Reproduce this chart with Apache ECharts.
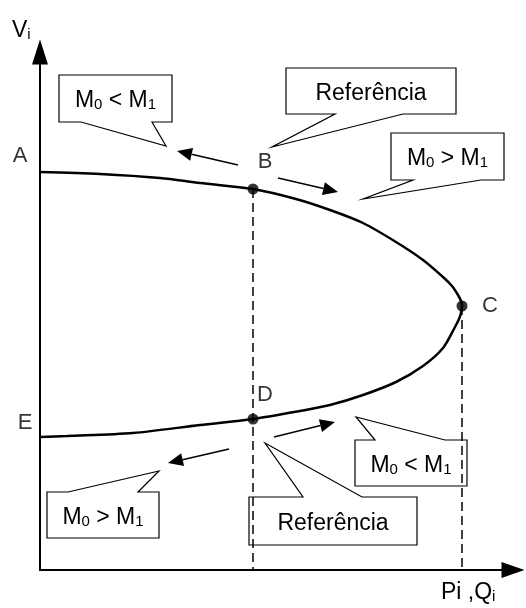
<!DOCTYPE html>
<html>
<head>
<meta charset="utf-8">
<script src="https://cdn.jsdelivr.net/npm/echarts@6/dist/echarts.min.js"></script>
<style>
  html, body { margin: 0; background: #fff; }
  #chart { width: 526px; height: 608px; }
</style>
</head>
<body>
<div id="chart"></div>
<script>
// curva do nariz (P, V) - ramo superior A -> C
const upperP = [0, 60, 120, 160, 213, 256, 290, 323, 356, 383, 403, 412, 418, 421, 422];
const upperV = [398, 396, 392, 387, 381, 371, 360, 347, 328, 310, 293, 284, 275, 269, 264];
// ramo inferior C -> E
const lowerP = [421, 419, 415, 403, 383, 356, 323, 290, 260, 213, 160, 93, 27, 0];
const lowerV = [257, 251, 243, 222, 204, 188, 175, 165, 159, 151, 145, 137, 134, 133];

// pontos marcados
const dotNames = ['B', 'C', 'D'];
const dotP = [213, 422, 213];
const dotV = [381, 264, 151];

// pontos com letra
const letterNames = ['A', 'B', 'C', 'D', 'E'];
const letterP = [0, 213, 422, 213, 0];
const letterV = [398, 381, 264, 151, 133];

// linhas tracejadas verticais (a partir de B e C)
const guideP = [213, 422];
const guideV = [381, 264];

const FONT = 'Liberation Sans';

const curveData = upperP.map((p, i) => [p, upperV[i]])
  .concat(lowerP.map((p, i) => [p, lowerV[i]]));

// deslocamento das letras em relação ao ponto
const letterOffset = {
  A: [-20, -16], B: [12, -27], C: [28, 0], D: [12, -24], E: [-15, -14]
};

// balões (texto, caixa, ponta)
const callouts = [
  { text: '{t|M}{s|0}{t| < M}{s|1}', box: [59, 75, 113, 47], tail: [[81, 122], [166, 146], [152, 122]], side: 'bottom' },
  { text: '{t|Referência}', box: [286, 68, 170, 46], tail: [[335, 114], [272, 147], [403, 114]], side: 'bottom' },
  { text: '{t|M}{s|0}{t| > M}{s|1}', box: [391, 133, 113, 47], tail: [[413, 180], [363, 199], [481, 180]], side: 'bottom' },
  { text: '{t|M}{s|0}{t| > M}{s|1}', box: [47, 492, 112, 46], tail: [[68, 492], [159, 471], [138, 492]], side: 'top' },
  { text: '{t|Referência}', box: [249, 497, 168, 48], tail: [[303, 497], [265, 443], [362, 497]], side: 'top' },
  { text: '{t|M}{s|0}{t| < M}{s|1}', box: [355, 440, 112, 46], tail: [[375, 440], [356, 417], [445, 440]], side: 'top' }
];

// setas de direção
const arrows = [
  [238, 165, 177, 151],
  [278, 178, 338, 192],
  [274, 437, 335, 422],
  [229, 449, 168, 463]
];

// texto com índice
const richText = {
  t: { fontSize: 23, fontFamily: FONT, color: '#000', lineHeight: 26, verticalAlign: 'bottom' },
  s: { fontSize: 15, fontFamily: FONT, color: '#000', lineHeight: 13, verticalAlign: 'bottom' }
};

function calloutPoints(c) {
  const [x, y, w, h] = c.box;
  if (c.side === 'bottom') {
    // ponta na borda de baixo: percorre da direita para a esquerda
    const t = c.tail.slice().reverse();
    return [[x, y], [x + w, y], [x + w, y + h], t[0], t[1], t[2], [x, y + h]];
  }
  return [[x, y + h], [x, y], c.tail[0], c.tail[1], c.tail[2], [x + w, y], [x + w, y + h]];
}

function arrowShapes(a) {
  const [x1, y1, x2, y2] = a;
  const ang = Math.atan2(y2 - y1, x2 - x1);
  const len = 15, half = 6.5;
  const bx = x2 - len * Math.cos(ang), by = y2 - len * Math.sin(ang);
  return [
    { type: 'line', shape: { x1: x1, y1: y1, x2: bx, y2: by }, style: { stroke: '#000', lineWidth: 1.5 } },
    { type: 'polygon', shape: { points: [[x2, y2], [bx + half * Math.sin(ang), by - half * Math.cos(ang)], [bx - half * Math.sin(ang), by + half * Math.cos(ang)]] }, style: { fill: '#000' } }
  ];
}

const graphics = [];
callouts.forEach(c => {
  graphics.push({
    type: 'polygon', z: 50,
    shape: { points: calloutPoints(c) },
    style: { fill: 'none', stroke: '#000', lineWidth: 1.2 }
  });
  graphics.push({
    type: 'text', z: 51,
    x: c.box[0] + c.box[2] / 2, y: c.box[1] + c.box[3] / 2 + 1,
    style: { text: c.text, rich: richText, align: 'center', verticalAlign: 'middle', textAlign: 'center', textVerticalAlign: 'middle' }
  });
});
arrows.forEach(a => graphics.push(...arrowShapes(a)));

// nomes dos eixos
graphics.push({
  type: 'text', x: 12, y: 29,
  style: { text: '{t|V}{s|i}', rich: richText, align: 'left', verticalAlign: 'middle', textAlign: 'left', textVerticalAlign: 'middle' }
});
graphics.push({
  type: 'text', x: 441, y: 591,
  style: { text: '{t|Pi ,Q}{s|i}', rich: richText, align: 'left', verticalAlign: 'middle', textAlign: 'left', textVerticalAlign: 'middle' }
});

const chart = echarts.init(document.getElementById('chart'));
chart.setOption({
  animation: false,
  backgroundColor: '#fff',
  grid: { left: 40, right: 13, top: 52, bottom: 38 },
  xAxis: {
    type: 'value', min: 0, max: 473,
    axisLine: { show: true, symbol: ['none', 'triangle'], symbolSize: [16, 23], lineStyle: { color: '#000', width: 2 } },
    axisTick: { show: false }, axisLabel: { show: false }, splitLine: { show: false }
  },
  yAxis: {
    type: 'value', min: 0, max: 518,
    axisLine: { show: true, symbol: ['none', 'triangle'], symbolSize: [16, 25], lineStyle: { color: '#000', width: 2 } },
    axisTick: { show: false }, axisLabel: { show: false }, splitLine: { show: false }
  },
  series: [
    ...guideP.map((p, i) => ({
      type: 'line', silent: true, showSymbol: false,
      data: [[p, guideV[i]], [p, 0]],
      lineStyle: { color: '#000', width: 1.5, type: [9, 5] }
    })),
    {
      type: 'line', name: 'curva', smooth: 0.3, showSymbol: false,
      data: curveData,
      lineStyle: { color: '#000', width: 2.5 }
    },
    {
      type: 'scatter', symbolSize: 11,
      itemStyle: { color: '#000' },
      data: dotP.map((p, i) => ({ name: dotNames[i], value: [p, dotV[i]] }))
    },
    {
      type: 'scatter', symbolSize: 0, silent: true,
      data: letterP.map((p, i) => ({
        name: letterNames[i], value: [p, letterV[i]],
        label: { offset: letterOffset[letterNames[i]] }
      })),
      label: {
        show: true, position: 'inside', formatter: '{b}',
        color: '#000', fontSize: 22, fontFamily: FONT
      }
    }
  ],
  graphic: { elements: graphics }
});
</script>
</body>
</html>
